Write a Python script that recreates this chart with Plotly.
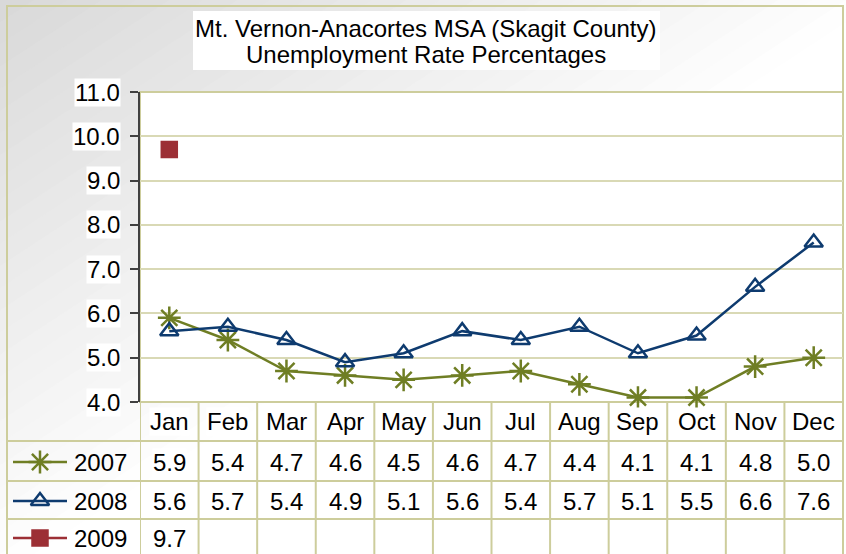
import plotly.graph_objects as go

W, H = 846, 554

months = ["Jan", "Feb", "Mar", "Apr", "May", "Jun", "Jul", "Aug", "Sep", "Oct", "Nov", "Dec"]
rate_2007 = [5.9, 5.4, 4.7, 4.6, 4.5, 4.6, 4.7, 4.4, 4.1, 4.1, 4.8, 5.0]
rate_2008 = [5.6, 5.7, 5.4, 4.9, 5.1, 5.6, 5.4, 5.7, 5.1, 5.5, 6.6, 7.6]
rate_2009 = [9.7]
y_ticks = [4.0, 5.0, 6.0, 7.0, 8.0, 9.0, 10.0, 11.0]
title_lines = ["Mt. Vernon-Anacortes MSA (Skagit County)", "Unemployment Rate Percentages"]

series = [
    ("2007", rate_2007, "#6f7e24", "asterisk-open", 19),
    ("2008", rate_2008, "#0e3b6f", "triangle-up-open", 16),
    ("2009", rate_2009, "#9c2f35", "square", 15),
]

FONT = "Liberation Sans, Arial, sans-serif"
FS = 24
BORDER = "#cdcd9c"
GRID = "#d9d9b5"

# pixel layout of the plot area and data table
PX0, PX1, PY0, PY1 = 140, 843, 92, 402
ROW_Y = [462, 501, 538]
HEAD_Y = 422
ROW_LINES = [441, 481, 519]


def px(x):
    return x / W


def py(y):
    return 1 - y / H


fig = go.Figure()

for name, values, color, symbol, size in series:
    fig.add_trace(go.Scatter(
        x=months[:len(values)], y=values, name=name, mode="lines+markers",
        line=dict(color=color, width=2.5), cliponaxis=False,
        marker=dict(symbol=symbol, size=size, color=color, line=dict(color=color, width=2.5)),
        showlegend=False, xaxis="x", yaxis="y",
    ))

# legend keys in the table's first column
for (name, values, color, symbol, size), ry in zip(series, ROW_Y):
    fig.add_trace(go.Scatter(
        x=[px(13), px(67)], y=[py(ry), py(ry)], mode="lines",
        line=dict(color=color, width=2.5), showlegend=False, hoverinfo="skip",
        xaxis="x2", yaxis="y2",
    ))
    fig.add_trace(go.Scatter(
        x=[px(40)], y=[py(ry)], mode="markers",
        marker=dict(symbol=symbol, size=size, color=color, line=dict(color=color, width=2.5)),
        showlegend=False, hoverinfo="skip", xaxis="x2", yaxis="y2",
    ))

shapes = []
# diagonal background gradient: grey top-left fading to white bottom-right
n = 50
for k in range(n):
    a = 2.0 * k / n
    b = 2.0 * (k + 1) / n + 0.01
    u = (a + b) / 2
    c = int(217 + 38 * min(u / 1.05, 1))
    shapes.append(dict(type="path", xref="paper", yref="paper",
                       path=f"M {a},1 L {b},1 L {b - 1},0 L {a - 1},0 Z",
                       fillcolor=f"rgb({c},{c},{c})", line_width=0, layer="below"))
shapes.append(dict(type="rect", xref="paper", yref="paper", x0=px(PX0), x1=px(PX1), y0=py(PY1), y1=py(PY0),
                   fillcolor="white", line_width=0, layer="below"))
# title box
shapes.append(dict(type="rect", xref="paper", yref="paper", x0=px(193), x1=px(660), y0=py(70), y1=py(11),
                   fillcolor="white", line_width=0, layer="below"))
# plot area border (top/right)
shapes.append(dict(type="rect", xref="paper", yref="paper", x0=px(PX0), x1=px(PX1), y0=py(PY1), y1=py(PY0),
                   line=dict(color=BORDER, width=2), layer="below"))
# outer border
shapes.append(dict(type="rect", xref="paper", yref="paper", x0=px(7), x1=px(PX1), y0=py(H + 5), y1=py(6),
                   line=dict(color=BORDER, width=2), layer="below"))
# table grid
for ly in ROW_LINES:
    shapes.append(dict(type="line", xref="paper", yref="paper", x0=px(7), x1=px(PX1), y0=py(ly), y1=py(ly),
                       line=dict(color=BORDER, width=2), layer="below"))
for i in range(len(months) + 1):
    shapes.append(dict(type="line", xref="x", yref="paper", x0=i - 0.5, x1=i - 0.5, y0=0, y1=py(PY1),
                       line=dict(color=BORDER, width=2), layer="below"))

annotations = []
for line, ty in zip(title_lines, [28, 55]):
    annotations.append(dict(text=line, xref="paper", yref="paper", x=px(426), y=py(ty), showarrow=False,
                            xanchor="center", yanchor="middle",
                            font=dict(family=FONT, size=FS, color="black")))
for v in y_ticks:
    annotations.append(dict(text=f"{v:.1f}", xref="paper", yref="y", x=px(121), y=v,
                            xanchor="right", yanchor="middle",
                            showarrow=False, font=dict(family=FONT, size=FS, color="black"),
                            bgcolor="white", borderpad=0))
for i, m in enumerate(months):
    annotations.append(dict(text=m, xref="x", yref="paper", x=i, y=py(HEAD_Y), showarrow=False,
                            xanchor="center", yanchor="middle",
                            font=dict(family=FONT, size=FS, color="black"), bgcolor="white", borderpad=0))
for (name, values, color, symbol, size), ry in zip(series, ROW_Y):
    annotations.append(dict(text=name, xref="paper", yref="paper", x=px(72), y=py(ry),
                            xanchor="left", yanchor="middle",
                            showarrow=False, font=dict(family=FONT, size=FS, color="black")))
    for i, v in enumerate(values):
        annotations.append(dict(text=f"{v:.1f}", xref="x", yref="paper", x=i, y=py(ry), showarrow=False,
                                xanchor="center", yanchor="middle",
                                font=dict(family=FONT, size=FS, color="black"), bgcolor="white", borderpad=0))

fig.update_layout(
    width=W, height=H,
    margin=dict(l=0, r=0, t=0, b=0),
    paper_bgcolor="white", plot_bgcolor="rgba(0,0,0,0)",
    font=dict(family=FONT, size=FS, color="black"),
    shapes=shapes, annotations=annotations,
    xaxis=dict(domain=[px(PX0), px(PX1)], range=[-0.5, 11.5], type="category",
               categoryorder="array", categoryarray=months,
               showticklabels=False, showgrid=False, zeroline=False, showline=False, ticks=""),
    yaxis=dict(domain=[py(PY1), py(PY0)], range=[4, 11], tickvals=y_ticks, showticklabels=False,
               showgrid=True, gridcolor=GRID, gridwidth=2, zeroline=False,
               showline=True, linecolor="#404040", linewidth=1.5, ticks="outside", ticklen=8,
               tickcolor="#404040", tickwidth=1.5),
    xaxis2=dict(domain=[0, 1], range=[0, 1], visible=False, anchor="y2"),
    yaxis2=dict(domain=[0, 1], range=[0, 1], visible=False, anchor="x2"),
    hovermode=False,
)

fig.write_html("out.html", config={"displayModeBar": False},
               post_script="document.body.style.margin='0';")
